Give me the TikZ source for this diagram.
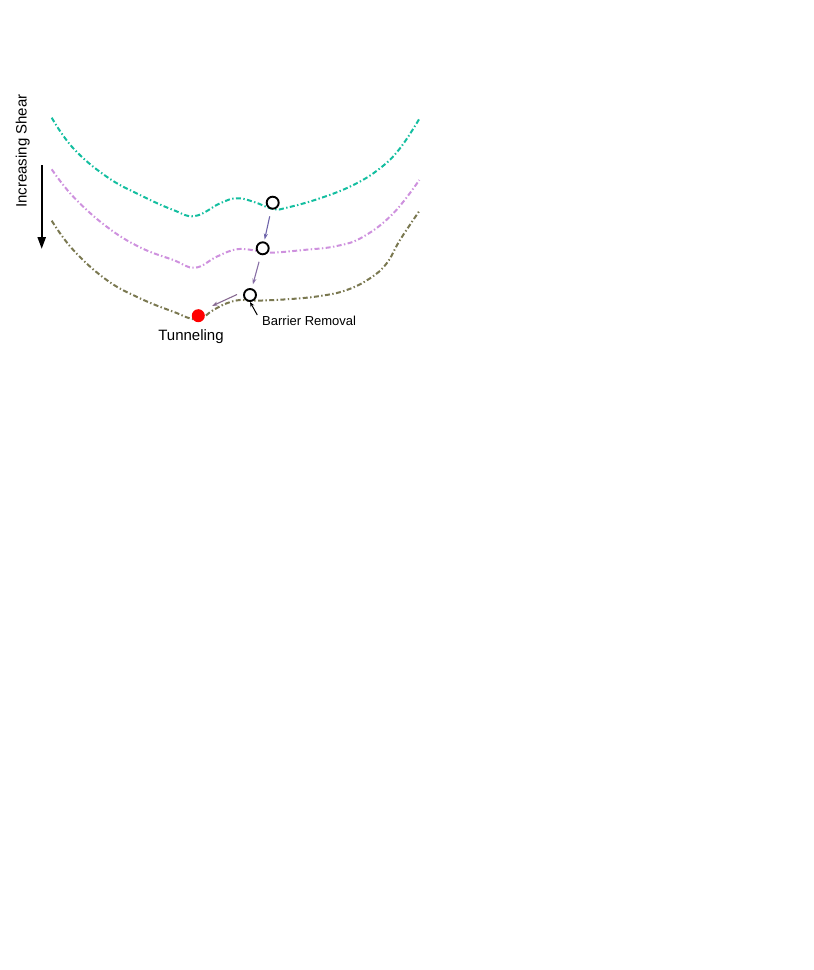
\documentclass[tikz,border=0pt]{standalone}
\usepackage{fontspec}
\setmainfont{Liberation Sans}
\usetikzlibrary{arrows.meta}
\definecolor{tealc}{RGB}{20,190,160}
\definecolor{lilac}{RGB}{206,145,222}
\definecolor{olive2}{RGB}{122,120,80}
\definecolor{arr1}{RGB}{110,100,170}
\definecolor{arr2}{RGB}{135,110,165}
\definecolor{arr3}{RGB}{135,105,145}
\tikzset{
  energy/.style={line width=2bp, dash pattern=on 5bp off 2.4bp on 1.4bp off 2.4bp},
  ball/.style={circle, draw=black, line width=1.9bp, fill=white, minimum size=12bp, inner sep=0pt},
  redball/.style={circle, fill=red, minimum size=13bp, inner sep=0pt},
  flow/.style={line width=1.1bp, -{Stealth[length=6bp,width=4bp]}},
  lbl/.style={inner sep=0pt, text=black}
}
\begin{document}
\begin{tikzpicture}[x=1bp,y=-1bp]
\useasboundingbox (0,0) rectangle (814,970);
% curves
\draw[energy, tealc] plot[smooth, tension=0.7] coordinates {
 (51.7,117.7) (73.3,148.3) (106.7,176.7) (140,195) (173.3,210) (195,216)
 (220,203.3) (236.7,198.3) (253.3,201.7) (273.3,209) (286.7,207.7)
 (320,198.3) (353.3,185) (380,168.3) (400,148.3) (420,117.7)};
\draw[energy, lilac] plot[smooth, tension=0.7] coordinates {
 (51.7,169.3) (73.3,196.7) (106.7,226.7) (140,247.3) (173.3,260) (195,267.7)
 (216.7,256.7) (236.7,249.3) (256.7,250.7) (270,252.7) (303.3,250)
 (336.7,246) (363.3,236.7) (393.3,213.3) (419.3,180)};
\draw[energy, olive2] plot[smooth, tension=0.7] coordinates {
 (51.7,220.7) (73.3,250) (106.7,280) (140,298.3) (173.3,311.7) (196.7,319.3)
 (213.3,310) (226.7,303.3) (240,300) (253.3,300.7) (286.7,299.3)
 (320,296) (346.7,290) (370,278.3) (386.7,263.3) (400,240) (420,210)};
% balls
\node[ball] (c1) at (272.7,202.7) {};
\node[ball] (c2) at (262.7,248.3) {};
\node[ball] (c3) at (250,295) {};
\node[redball] (dot) at (198.3,315.7) {};
% flow arrows
\draw[flow, arr1, shorten <=7bp, shorten >=2bp] (c1) -- (c2);
\draw[flow, arr2, shorten <=7bp, shorten >=4bp] (c2) -- (c3);
\coordinate (a3s) at (237,294.5);
\coordinate (a3e) at (212,306);
\draw[flow, arr3] (a3s) -- (a3e);
% labels
\node[lbl, font=\fontsize{15bp}{18bp}\selectfont] (tun) at (191,337) {Tunneling};
\node[lbl, anchor=base west, font=\fontsize{13bp}{16bp}\selectfont] (bar) at (262,325.7) {Barrier Removal};
\coordinate (bars) at (257.3,315);
\draw[line width=1bp, -{Stealth[length=5bp,width=4bp]}] (bars) -- (c3.south);
\node[lbl, rotate=90, anchor=base, font=\fontsize{15bp}{18bp}\selectfont] (shear) at (26.5,151) {Increasing Shear};
% shear arrow
\coordinate (sa) at (41.7,165);
\coordinate (sb) at (41.7,249);
\draw[line width=2.3bp, -{Triangle[length=12bp,width=8bp]}] (sa) -- (sb);
\end{tikzpicture}
\end{document}
